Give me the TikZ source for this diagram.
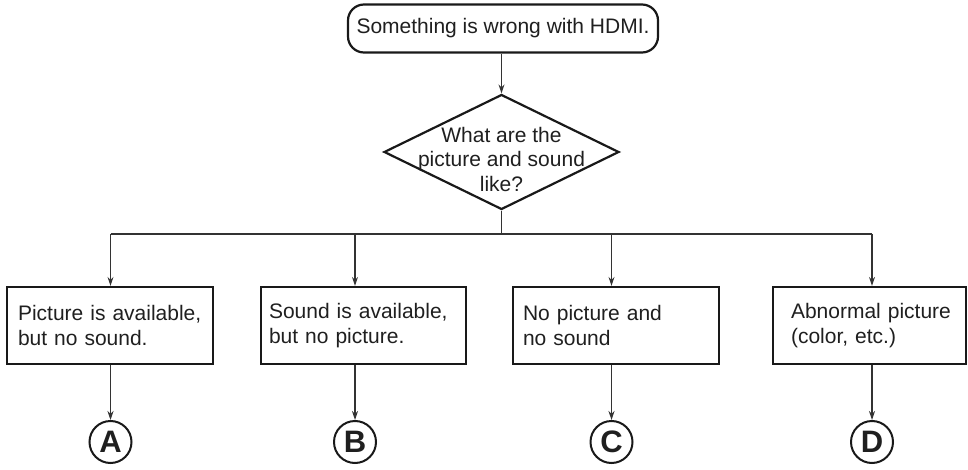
\documentclass[tikz,border=0pt]{standalone}
\usepackage{fontspec}
\setmainfont{Liberation Sans}
\usetikzlibrary{shapes.geometric,arrows.meta}
\begin{document}
\begin{tikzpicture}[x=1pt,y=-1pt,
  txt/.style={font=\fontsize{21}{24.5}\selectfont, text=black!88},
  conn/.style={line width=1.2pt, draw=black!80},
  arr/.style={conn, -{Stealth[length=9pt,width=6pt]}},
  startbox/.style={txt, draw=black!90, line width=2.2pt, rounded corners=16pt,
    minimum width=310pt, minimum height=48pt, inner sep=0pt},
  decbox/.style={draw=black!90, line width=2.2pt, diamond, minimum width=235pt,
    minimum height=115pt, inner sep=0pt},
  optbox/.style={txt, draw=black!90, line width=2.2pt, align=left,
    minimum height=77pt, inner ysep=0pt},
  circ/.style={circle, draw=black!90, line width=2pt, minimum size=42pt, inner sep=0pt,
    font=\fontsize{31}{31}\selectfont\bfseries, text=black!88}]
\useasboundingbox (0,0) rectangle (968,470);

\node[startbox] (s) at (503,28.5) {Something is wrong with HDMI.};
\node[decbox] (q) at (501.5,152) {};
\node[txt, align=center, inner sep=0pt] (qt) at (501.5,159) {What are the\\picture and sound\\like?};

\node[optbox, inner xsep=11pt, text width=184pt] (oA) at (110,325.5) {\mbox{Picture is available,}\\\mbox{but no sound.}};
\node[optbox, inner xsep=8pt, text width=189pt] (oB) at (363.5,325.5) {\mbox{Sound is available,}\\\mbox{but no picture.}};
\node[optbox, inner xsep=10pt, text width=186pt] (oC) at (616,325.5) {\mbox{No picture and}\\\mbox{no sound}};
\node[optbox, inner xsep=18pt, text width=157pt] (oD) at (869.5,325.5) {\mbox{Abnormal picture}\\\mbox{(color, etc.)}};

\node[circ] (cA) at (110.5,442) {A};
\node[circ] (cB) at (355,442) {B};
\node[circ] (cC) at (611.5,442) {C};
\node[circ] (cD) at (872,442) {D};

\coordinate (j) at (501.5,234);
\coordinate (bA) at (110.5,234);
\coordinate (bB) at (355,234);
\coordinate (bC) at (611.5,234);
\coordinate (bD) at (872,234);

\draw[arr] (q.north |- s.south) -- (q.north);
\draw[conn] (q.south) -- (j);
\draw[conn] (bA) -- (bD);
\draw[arr] (bA) -- (bA |- oA.north);
\draw[arr] (bB) -- (bB |- oB.north);
\draw[arr] (bC) -- (bC |- oC.north);
\draw[arr] (bD) -- (bD |- oD.north);

\draw[arr] (cA.north |- oA.south) -- (cA.north);
\draw[arr] (cB.north |- oB.south) -- (cB.north);
\draw[arr] (cC.north |- oC.south) -- (cC.north);
\draw[arr] (cD.north |- oD.south) -- (cD.north);
\end{tikzpicture}
\end{document}
